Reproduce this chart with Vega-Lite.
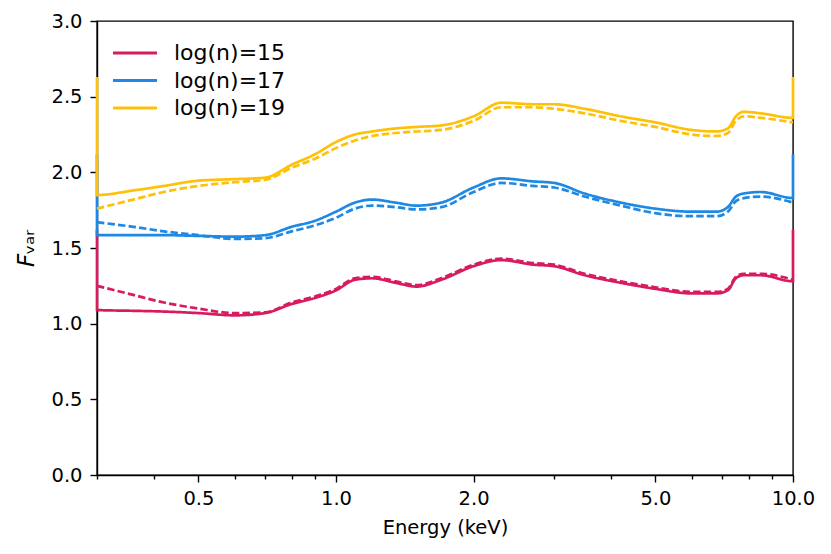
{
  "$schema": "https://vega.github.io/schema/vega-lite/v6.json",
  "autosize": {"type": "none"},
  "width": 696,
  "height": 454,
  "padding": {"left": 97, "top": 21, "right": 38, "bottom": 79},
  "background": "white",
  "config": {
    "font": "DejaVu Sans",
    "view": {"stroke": "black", "strokeWidth": 1.4},
    "axis": {
      "domainColor": "black", "domainWidth": 1.4, "tickColor": "black", "tickWidth": 1.4,
      "labelFont": "DejaVu Sans", "labelFontSize": 19.5, "labelColor": "black",
      "titleFont": "DejaVu Sans", "titleFontSize": 19.5, "titleFontWeight": "normal", "titleColor": "black",
      "grid": false
    }
  },
  "data": {"values": [
    {"n": "log(n)=15", "k": "solid", "i": 0, "E": 0.3, "F": 1.62},
    {"n": "log(n)=15", "k": "solid", "i": 1, "E": 0.3, "F": 1.09},
    {"n": "log(n)=15", "k": "solid", "i": 2, "E": 0.36, "F": 1.085},
    {"n": "log(n)=15", "k": "solid", "i": 3, "E": 0.42, "F": 1.08},
    {"n": "log(n)=15", "k": "solid", "i": 4, "E": 0.5, "F": 1.07},
    {"n": "log(n)=15", "k": "solid", "i": 5, "E": 0.6, "F": 1.055},
    {"n": "log(n)=15", "k": "solid", "i": 6, "E": 0.7, "F": 1.07},
    {"n": "log(n)=15", "k": "solid", "i": 7, "E": 0.8, "F": 1.13},
    {"n": "log(n)=15", "k": "solid", "i": 8, "E": 0.9, "F": 1.17},
    {"n": "log(n)=15", "k": "solid", "i": 9, "E": 1.0, "F": 1.22},
    {"n": "log(n)=15", "k": "solid", "i": 10, "E": 1.1, "F": 1.29},
    {"n": "log(n)=15", "k": "solid", "i": 11, "E": 1.2, "F": 1.30},
    {"n": "log(n)=15", "k": "solid", "i": 12, "E": 1.35, "F": 1.27},
    {"n": "log(n)=15", "k": "solid", "i": 13, "E": 1.5, "F": 1.245},
    {"n": "log(n)=15", "k": "solid", "i": 14, "E": 1.7, "F": 1.29},
    {"n": "log(n)=15", "k": "solid", "i": 15, "E": 2.0, "F": 1.38},
    {"n": "log(n)=15", "k": "solid", "i": 16, "E": 2.3, "F": 1.42},
    {"n": "log(n)=15", "k": "solid", "i": 17, "E": 2.7, "F": 1.39},
    {"n": "log(n)=15", "k": "solid", "i": 18, "E": 3.0, "F": 1.38},
    {"n": "log(n)=15", "k": "solid", "i": 19, "E": 3.5, "F": 1.32},
    {"n": "log(n)=15", "k": "solid", "i": 20, "E": 4.2, "F": 1.27},
    {"n": "log(n)=15", "k": "solid", "i": 21, "E": 5.0, "F": 1.23},
    {"n": "log(n)=15", "k": "solid", "i": 22, "E": 6.0, "F": 1.20},
    {"n": "log(n)=15", "k": "solid", "i": 23, "E": 6.8, "F": 1.20},
    {"n": "log(n)=15", "k": "solid", "i": 24, "E": 7.2, "F": 1.22},
    {"n": "log(n)=15", "k": "solid", "i": 25, "E": 7.5, "F": 1.30},
    {"n": "log(n)=15", "k": "solid", "i": 26, "E": 7.8, "F": 1.32},
    {"n": "log(n)=15", "k": "solid", "i": 27, "E": 8.5, "F": 1.32},
    {"n": "log(n)=15", "k": "solid", "i": 28, "E": 10.0, "F": 1.28},
    {"n": "log(n)=15", "k": "solid", "i": 29, "E": 10.0, "F": 1.62},

    {"n": "log(n)=15", "k": "dashed", "i": 1, "E": 0.3, "F": 1.25},
    {"n": "log(n)=15", "k": "dashed", "i": 2, "E": 0.36, "F": 1.19},
    {"n": "log(n)=15", "k": "dashed", "i": 3, "E": 0.42, "F": 1.14},
    {"n": "log(n)=15", "k": "dashed", "i": 4, "E": 0.5, "F": 1.10},
    {"n": "log(n)=15", "k": "dashed", "i": 5, "E": 0.6, "F": 1.07},
    {"n": "log(n)=15", "k": "dashed", "i": 6, "E": 0.7, "F": 1.075},
    {"n": "log(n)=15", "k": "dashed", "i": 7, "E": 0.8, "F": 1.14},
    {"n": "log(n)=15", "k": "dashed", "i": 8, "E": 0.9, "F": 1.18},
    {"n": "log(n)=15", "k": "dashed", "i": 9, "E": 1.0, "F": 1.23},
    {"n": "log(n)=15", "k": "dashed", "i": 10, "E": 1.1, "F": 1.30},
    {"n": "log(n)=15", "k": "dashed", "i": 11, "E": 1.2, "F": 1.31},
    {"n": "log(n)=15", "k": "dashed", "i": 12, "E": 1.35, "F": 1.28},
    {"n": "log(n)=15", "k": "dashed", "i": 13, "E": 1.5, "F": 1.255},
    {"n": "log(n)=15", "k": "dashed", "i": 14, "E": 1.7, "F": 1.30},
    {"n": "log(n)=15", "k": "dashed", "i": 15, "E": 2.0, "F": 1.39},
    {"n": "log(n)=15", "k": "dashed", "i": 16, "E": 2.3, "F": 1.43},
    {"n": "log(n)=15", "k": "dashed", "i": 17, "E": 2.7, "F": 1.40},
    {"n": "log(n)=15", "k": "dashed", "i": 18, "E": 3.0, "F": 1.39},
    {"n": "log(n)=15", "k": "dashed", "i": 19, "E": 3.5, "F": 1.33},
    {"n": "log(n)=15", "k": "dashed", "i": 20, "E": 4.2, "F": 1.28},
    {"n": "log(n)=15", "k": "dashed", "i": 21, "E": 5.0, "F": 1.24},
    {"n": "log(n)=15", "k": "dashed", "i": 22, "E": 6.0, "F": 1.21},
    {"n": "log(n)=15", "k": "dashed", "i": 23, "E": 6.8, "F": 1.21},
    {"n": "log(n)=15", "k": "dashed", "i": 24, "E": 7.2, "F": 1.23},
    {"n": "log(n)=15", "k": "dashed", "i": 25, "E": 7.5, "F": 1.31},
    {"n": "log(n)=15", "k": "dashed", "i": 26, "E": 7.8, "F": 1.33},
    {"n": "log(n)=15", "k": "dashed", "i": 27, "E": 8.5, "F": 1.33},
    {"n": "log(n)=15", "k": "dashed", "i": 28, "E": 10.0, "F": 1.29},

    {"n": "log(n)=17", "k": "solid", "i": 0, "E": 0.3, "F": 2.12},
    {"n": "log(n)=17", "k": "solid", "i": 1, "E": 0.3, "F": 1.585},
    {"n": "log(n)=17", "k": "solid", "i": 2, "E": 0.36, "F": 1.585},
    {"n": "log(n)=17", "k": "solid", "i": 3, "E": 0.42, "F": 1.585},
    {"n": "log(n)=17", "k": "solid", "i": 4, "E": 0.5, "F": 1.58},
    {"n": "log(n)=17", "k": "solid", "i": 5, "E": 0.6, "F": 1.575},
    {"n": "log(n)=17", "k": "solid", "i": 6, "E": 0.7, "F": 1.585},
    {"n": "log(n)=17", "k": "solid", "i": 7, "E": 0.8, "F": 1.64},
    {"n": "log(n)=17", "k": "solid", "i": 8, "E": 0.9, "F": 1.68},
    {"n": "log(n)=17", "k": "solid", "i": 9, "E": 1.0, "F": 1.74},
    {"n": "log(n)=17", "k": "solid", "i": 10, "E": 1.1, "F": 1.80},
    {"n": "log(n)=17", "k": "solid", "i": 11, "E": 1.2, "F": 1.82},
    {"n": "log(n)=17", "k": "solid", "i": 12, "E": 1.35, "F": 1.80},
    {"n": "log(n)=17", "k": "solid", "i": 13, "E": 1.5, "F": 1.78},
    {"n": "log(n)=17", "k": "solid", "i": 14, "E": 1.7, "F": 1.80},
    {"n": "log(n)=17", "k": "solid", "i": 15, "E": 2.0, "F": 1.90},
    {"n": "log(n)=17", "k": "solid", "i": 16, "E": 2.3, "F": 1.96},
    {"n": "log(n)=17", "k": "solid", "i": 17, "E": 2.7, "F": 1.94},
    {"n": "log(n)=17", "k": "solid", "i": 18, "E": 3.0, "F": 1.93},
    {"n": "log(n)=17", "k": "solid", "i": 19, "E": 3.5, "F": 1.86},
    {"n": "log(n)=17", "k": "solid", "i": 20, "E": 4.2, "F": 1.80},
    {"n": "log(n)=17", "k": "solid", "i": 21, "E": 5.0, "F": 1.76},
    {"n": "log(n)=17", "k": "solid", "i": 22, "E": 6.0, "F": 1.74},
    {"n": "log(n)=17", "k": "solid", "i": 23, "E": 6.8, "F": 1.74},
    {"n": "log(n)=17", "k": "solid", "i": 24, "E": 7.2, "F": 1.77},
    {"n": "log(n)=17", "k": "solid", "i": 25, "E": 7.5, "F": 1.84},
    {"n": "log(n)=17", "k": "solid", "i": 26, "E": 7.8, "F": 1.86},
    {"n": "log(n)=17", "k": "solid", "i": 27, "E": 8.5, "F": 1.87},
    {"n": "log(n)=17", "k": "solid", "i": 28, "E": 10.0, "F": 1.83},
    {"n": "log(n)=17", "k": "solid", "i": 29, "E": 10.0, "F": 2.12},

    {"n": "log(n)=17", "k": "dashed", "i": 1, "E": 0.3, "F": 1.67},
    {"n": "log(n)=17", "k": "dashed", "i": 2, "E": 0.36, "F": 1.64},
    {"n": "log(n)=17", "k": "dashed", "i": 3, "E": 0.42, "F": 1.61},
    {"n": "log(n)=17", "k": "dashed", "i": 4, "E": 0.5, "F": 1.585},
    {"n": "log(n)=17", "k": "dashed", "i": 5, "E": 0.6, "F": 1.56},
    {"n": "log(n)=17", "k": "dashed", "i": 6, "E": 0.7, "F": 1.565},
    {"n": "log(n)=17", "k": "dashed", "i": 7, "E": 0.8, "F": 1.61},
    {"n": "log(n)=17", "k": "dashed", "i": 8, "E": 0.9, "F": 1.65},
    {"n": "log(n)=17", "k": "dashed", "i": 9, "E": 1.0, "F": 1.70},
    {"n": "log(n)=17", "k": "dashed", "i": 10, "E": 1.1, "F": 1.76},
    {"n": "log(n)=17", "k": "dashed", "i": 11, "E": 1.2, "F": 1.78},
    {"n": "log(n)=17", "k": "dashed", "i": 12, "E": 1.35, "F": 1.77},
    {"n": "log(n)=17", "k": "dashed", "i": 13, "E": 1.5, "F": 1.755},
    {"n": "log(n)=17", "k": "dashed", "i": 14, "E": 1.7, "F": 1.77},
    {"n": "log(n)=17", "k": "dashed", "i": 15, "E": 2.0, "F": 1.87},
    {"n": "log(n)=17", "k": "dashed", "i": 16, "E": 2.3, "F": 1.93},
    {"n": "log(n)=17", "k": "dashed", "i": 17, "E": 2.7, "F": 1.91},
    {"n": "log(n)=17", "k": "dashed", "i": 18, "E": 3.0, "F": 1.90},
    {"n": "log(n)=17", "k": "dashed", "i": 19, "E": 3.5, "F": 1.84},
    {"n": "log(n)=17", "k": "dashed", "i": 20, "E": 4.2, "F": 1.78},
    {"n": "log(n)=17", "k": "dashed", "i": 21, "E": 5.0, "F": 1.73},
    {"n": "log(n)=17", "k": "dashed", "i": 22, "E": 6.0, "F": 1.71},
    {"n": "log(n)=17", "k": "dashed", "i": 23, "E": 6.8, "F": 1.71},
    {"n": "log(n)=17", "k": "dashed", "i": 24, "E": 7.2, "F": 1.74},
    {"n": "log(n)=17", "k": "dashed", "i": 25, "E": 7.5, "F": 1.81},
    {"n": "log(n)=17", "k": "dashed", "i": 26, "E": 7.8, "F": 1.83},
    {"n": "log(n)=17", "k": "dashed", "i": 27, "E": 8.5, "F": 1.84},
    {"n": "log(n)=17", "k": "dashed", "i": 28, "E": 10.0, "F": 1.80},

    {"n": "log(n)=19", "k": "solid", "i": 0, "E": 0.3, "F": 2.63},
    {"n": "log(n)=19", "k": "solid", "i": 1, "E": 0.3, "F": 1.85},
    {"n": "log(n)=19", "k": "solid", "i": 2, "E": 0.36, "F": 1.88},
    {"n": "log(n)=19", "k": "solid", "i": 3, "E": 0.42, "F": 1.91},
    {"n": "log(n)=19", "k": "solid", "i": 4, "E": 0.5, "F": 1.945},
    {"n": "log(n)=19", "k": "solid", "i": 5, "E": 0.6, "F": 1.955},
    {"n": "log(n)=19", "k": "solid", "i": 6, "E": 0.7, "F": 1.965},
    {"n": "log(n)=19", "k": "solid", "i": 7, "E": 0.8, "F": 2.05},
    {"n": "log(n)=19", "k": "solid", "i": 8, "E": 0.9, "F": 2.12},
    {"n": "log(n)=19", "k": "solid", "i": 9, "E": 1.0, "F": 2.20},
    {"n": "log(n)=19", "k": "solid", "i": 10, "E": 1.1, "F": 2.25},
    {"n": "log(n)=19", "k": "solid", "i": 11, "E": 1.2, "F": 2.27},
    {"n": "log(n)=19", "k": "solid", "i": 12, "E": 1.35, "F": 2.29},
    {"n": "log(n)=19", "k": "solid", "i": 13, "E": 1.5, "F": 2.30},
    {"n": "log(n)=19", "k": "solid", "i": 14, "E": 1.7, "F": 2.31},
    {"n": "log(n)=19", "k": "solid", "i": 15, "E": 2.0, "F": 2.37},
    {"n": "log(n)=19", "k": "solid", "i": 16, "E": 2.3, "F": 2.46},
    {"n": "log(n)=19", "k": "solid", "i": 17, "E": 2.7, "F": 2.45},
    {"n": "log(n)=19", "k": "solid", "i": 18, "E": 3.0, "F": 2.45},
    {"n": "log(n)=19", "k": "solid", "i": 19, "E": 3.5, "F": 2.42},
    {"n": "log(n)=19", "k": "solid", "i": 20, "E": 4.2, "F": 2.37},
    {"n": "log(n)=19", "k": "solid", "i": 21, "E": 5.0, "F": 2.33},
    {"n": "log(n)=19", "k": "solid", "i": 22, "E": 6.0, "F": 2.28},
    {"n": "log(n)=19", "k": "solid", "i": 23, "E": 6.8, "F": 2.27},
    {"n": "log(n)=19", "k": "solid", "i": 24, "E": 7.2, "F": 2.29},
    {"n": "log(n)=19", "k": "solid", "i": 25, "E": 7.5, "F": 2.37},
    {"n": "log(n)=19", "k": "solid", "i": 26, "E": 7.8, "F": 2.40},
    {"n": "log(n)=19", "k": "solid", "i": 27, "E": 8.5, "F": 2.39},
    {"n": "log(n)=19", "k": "solid", "i": 28, "E": 10.0, "F": 2.36},
    {"n": "log(n)=19", "k": "solid", "i": 29, "E": 10.0, "F": 2.63},

    {"n": "log(n)=19", "k": "dashed", "i": 1, "E": 0.3, "F": 1.76},
    {"n": "log(n)=19", "k": "dashed", "i": 2, "E": 0.36, "F": 1.82},
    {"n": "log(n)=19", "k": "dashed", "i": 3, "E": 0.42, "F": 1.87},
    {"n": "log(n)=19", "k": "dashed", "i": 4, "E": 0.5, "F": 1.91},
    {"n": "log(n)=19", "k": "dashed", "i": 5, "E": 0.6, "F": 1.935},
    {"n": "log(n)=19", "k": "dashed", "i": 6, "E": 0.7, "F": 1.95},
    {"n": "log(n)=19", "k": "dashed", "i": 7, "E": 0.8, "F": 2.03},
    {"n": "log(n)=19", "k": "dashed", "i": 8, "E": 0.9, "F": 2.09},
    {"n": "log(n)=19", "k": "dashed", "i": 9, "E": 1.0, "F": 2.16},
    {"n": "log(n)=19", "k": "dashed", "i": 10, "E": 1.1, "F": 2.21},
    {"n": "log(n)=19", "k": "dashed", "i": 11, "E": 1.2, "F": 2.24},
    {"n": "log(n)=19", "k": "dashed", "i": 12, "E": 1.35, "F": 2.26},
    {"n": "log(n)=19", "k": "dashed", "i": 13, "E": 1.5, "F": 2.27},
    {"n": "log(n)=19", "k": "dashed", "i": 14, "E": 1.7, "F": 2.28},
    {"n": "log(n)=19", "k": "dashed", "i": 15, "E": 2.0, "F": 2.34},
    {"n": "log(n)=19", "k": "dashed", "i": 16, "E": 2.3, "F": 2.43},
    {"n": "log(n)=19", "k": "dashed", "i": 17, "E": 2.7, "F": 2.43},
    {"n": "log(n)=19", "k": "dashed", "i": 18, "E": 3.0, "F": 2.42},
    {"n": "log(n)=19", "k": "dashed", "i": 19, "E": 3.5, "F": 2.39},
    {"n": "log(n)=19", "k": "dashed", "i": 20, "E": 4.2, "F": 2.34},
    {"n": "log(n)=19", "k": "dashed", "i": 21, "E": 5.0, "F": 2.30},
    {"n": "log(n)=19", "k": "dashed", "i": 22, "E": 6.0, "F": 2.25},
    {"n": "log(n)=19", "k": "dashed", "i": 23, "E": 6.8, "F": 2.24},
    {"n": "log(n)=19", "k": "dashed", "i": 24, "E": 7.2, "F": 2.26},
    {"n": "log(n)=19", "k": "dashed", "i": 25, "E": 7.5, "F": 2.34},
    {"n": "log(n)=19", "k": "dashed", "i": 26, "E": 7.8, "F": 2.37},
    {"n": "log(n)=19", "k": "dashed", "i": 27, "E": 8.5, "F": 2.36},
    {"n": "log(n)=19", "k": "dashed", "i": 28, "E": 10.0, "F": 2.33}
  ]},
  "mark": {"type": "line", "strokeWidth": 2.7, "interpolate": "monotone", "clip": false},
  "encoding": {
    "x": {
      "field": "E", "type": "quantitative",
      "scale": {"type": "log", "domain": [0.3, 10], "nice": false},
      "axis": {
        "title": "Energy (keV)",
        "values": [0.3, 0.4, 0.5, 0.6, 0.7, 0.8, 0.9, 1, 2, 3, 4, 5, 6, 7, 8, 9, 10],
        "labelExpr": "indexof([0.5, 1, 2, 5, 10], datum.value) >= 0 ? format(datum.value, '.1f') : ''",
        "tickSize": {"condition": {"test": "indexof([0.5, 1, 2, 5, 10], datum.value) >= 0", "value": 7}, "value": 4},
        "labelOverlap": false,
        "labelFlush": false,
        "labelPadding": 7,
        "titlePadding": 11
      }
    },
    "y": {
      "field": "F", "type": "quantitative",
      "scale": {"domain": [0, 3], "nice": false, "zero": false},
      "axis": {
        "title": "𝘍ᵥₐᵣ",
        "values": [0, 0.5, 1, 1.5, 2, 2.5, 3],
        "format": ".1f",
        "tickSize": 7,
        "labelPadding": 8,
        "titlePadding": 12,
        "titleFontSize": 23
      }
    },
    "color": {
      "field": "n", "type": "nominal",
      "scale": {"domain": ["log(n)=15", "log(n)=17", "log(n)=19"], "range": ["#d81b60", "#1e88e5", "#ffc107"]},
      "legend": {
        "title": null, "orient": "none", "legendX": 25, "legendY": 19,
        "symbolType": "M-2,0H2", "symbolSize": 484, "symbolStrokeWidth": 3.2,
        "labelFontSize": 22, "labelFont": "DejaVu Sans", "labelColor": "black",
        "rowPadding": 3.5, "labelOffset": 26
      }
    },
    "strokeDash": {
      "field": "k", "type": "nominal",
      "scale": {"domain": ["solid", "dashed"], "range": [[1, 0], [7.4, 3.2]]},
      "legend": null
    },
    "order": {"field": "i", "type": "quantitative"}
  }
}
